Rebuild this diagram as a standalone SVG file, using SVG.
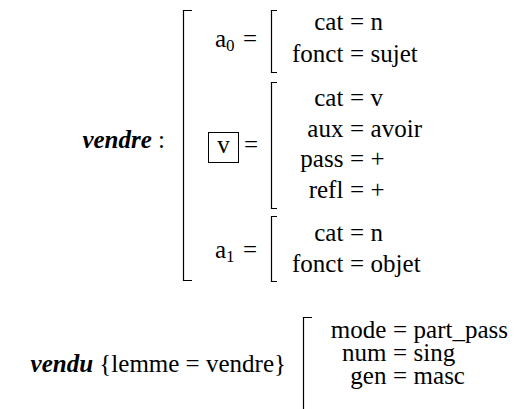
<svg xmlns="http://www.w3.org/2000/svg" width="515" height="409" viewBox="0 0 515 409">
<style>
text{font-family:"Liberation Serif","Times New Roman",serif;font-size:25px;fill:#000}
.bi{font-weight:bold;font-style:italic}
.sub{font-size:17px}
.k{text-anchor:end}
.eq{text-anchor:middle}
.br{fill:none;stroke:#000;stroke-width:1.2}
</style>
<rect width="515" height="409" fill="#fff"/>
<g id="vendre">
<text class="bi k" x="165" y="148">vendre<tspan font-weight="normal" font-style="normal"> :</tspan></text>
<path class="br" d="M192,10.5H183.5V280.5H192"/>
</g>
<g id="a0">
<text x="215" y="47">a<tspan class="sub" dy="4">0</tspan></text>
<text x="243" y="47">=</text>
<path class="br" d="M277,10.5H271.5V72.5H277"/>
<text class="k" x="343.4" y="30">cat</text><text class="eq" x="357" y="30">=</text><text x="370.6" y="30">n</text>
<text class="k" x="343.4" y="62">fonct</text><text class="eq" x="357" y="62">=</text><text x="370.6" y="62">sujet</text>
</g>
<g id="v">
<rect x="208.5" y="132.5" width="30" height="30" fill="none" stroke="#000" stroke-width="1"/>
<text class="eq" x="223.5" y="153">v</text>
<text x="244" y="153">=</text>
<path class="br" d="M277,82.5H271.5V208.5H277"/>
<text class="k" x="343.4" y="106">cat</text><text class="eq" x="357" y="106">=</text><text x="370.6" y="106">v</text>
<text class="k" x="343.4" y="137">aux</text><text class="eq" x="357" y="137">=</text><text x="370.6" y="137">avoir</text>
<text class="k" x="343.4" y="167">pass</text><text class="eq" x="357" y="167">=</text><text x="370.6" y="167">+</text>
<text class="k" x="343.4" y="198">refl</text><text class="eq" x="357" y="198">=</text><text x="370.6" y="198">+</text>
</g>
<g id="a1">
<text x="215" y="258">a<tspan class="sub" dy="4">1</tspan></text>
<text x="243" y="258">=</text>
<path class="br" d="M277,216.5H271.5V281.5H277"/>
<text class="k" x="343.4" y="241">cat</text><text class="eq" x="357" y="241">=</text><text x="370.6" y="241">n</text>
<text class="k" x="343.4" y="272">fonct</text><text class="eq" x="357" y="272">=</text><text x="370.6" y="272">objet</text>
</g>
<g id="vendu">
<text class="k" x="286" y="372"><tspan class="bi">vendu</tspan> {lemme = vendre}</text>
<path class="br" d="M312,317.5H303.5V415"/>
<text class="k" x="386.4" y="338">mode</text><text class="eq" x="400" y="338">=</text><text x="413.6" y="338">part_pass</text>
<text class="k" x="386.4" y="361">num</text><text class="eq" x="400" y="361">=</text><text x="413.6" y="361">sing</text>
<text class="k" x="386.4" y="384">gen</text><text class="eq" x="400" y="384">=</text><text x="413.6" y="384">masc</text>
</g>
<g id="connectors"></g>
</svg>
